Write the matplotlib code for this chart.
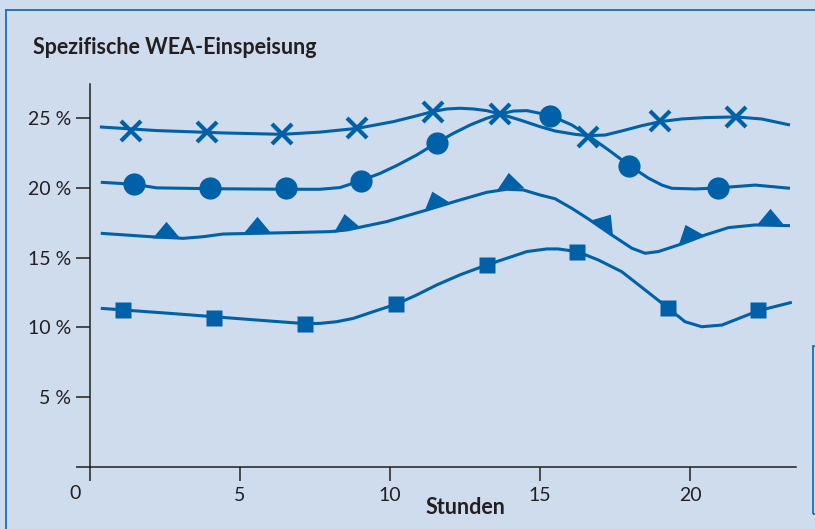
import matplotlib
matplotlib.use('Agg')
import matplotlib.pyplot as plt
from matplotlib.markers import MarkerStyle
from matplotlib.transforms import Affine2D
from matplotlib.patches import Rectangle
from matplotlib.lines import Line2D

plt.rcParams['font.family'] = ['Lato', 'DejaVu Sans']

# curve readings (hour, percent)
cross_line_x = [0.33, 2.22, 4.44, 6.41, 7.67, 8.91, 10.11, 10.78, 11.42, 11.89, 12.33, 12.78,
                13.22, 13.67, 14.33, 15.0, 15.5, 16.17, 16.61, 17.17, 17.72, 18.39, 19.0,
                19.72, 20.5, 21.53, 22.39, 23.33]
cross_line_y = [24.37, 24.11, 23.94, 23.84, 24.0, 24.27, 24.75, 25.11, 25.47, 25.66, 25.71, 25.66,
                25.54, 25.3, 24.87, 24.39, 24.08, 23.84, 23.74, 23.79, 24.08, 24.46, 24.75,
                24.94, 25.04, 25.09, 24.94, 24.51]

circle_line_x = [0.36, 1.47, 2.22, 4.0, 6.52, 7.67, 8.33, 8.67, 9.02, 9.67, 10.22, 10.89, 11.56,
                 12.11, 12.67, 13.22, 13.67, 14.11, 14.56, 15.33, 16.06, 16.61, 17.28, 17.98,
                 18.61, 19.06, 19.39, 20.17, 20.94, 22.17, 23.33]
circle_line_y = [20.4, 20.26, 20.0, 19.94, 19.9, 19.9, 20.02, 20.26, 20.52, 21.04, 21.6, 22.36, 23.24,
                 23.91, 24.51, 24.99, 25.3, 25.51, 25.54, 25.2, 24.51, 23.74, 22.72, 21.6,
                 20.7, 20.2, 19.97, 19.92, 20.0, 20.2, 19.97]

tri_line_x = [0.36, 2.0, 3.11, 3.78, 4.44, 6.67, 8.0, 8.56, 9.89, 11.22, 12.33, 13.22, 13.89,
              14.44, 15.0, 15.5, 16.06, 16.61, 17.39, 18.06, 18.5, 18.94, 19.72, 20.5, 21.28,
              22.17, 23.33]
tri_line_y = [16.74, 16.5, 16.38, 16.5, 16.69, 16.79, 16.86, 16.98, 17.58, 18.41, 19.13, 19.68, 19.9,
              19.85, 19.49, 19.22, 18.53, 17.77, 16.62, 15.67, 15.31, 15.43, 15.98, 16.62, 17.15,
              17.34, 17.29]

square_line_x = [0.36, 2.78, 5.56, 7.17, 7.67, 8.22, 8.78, 9.44, 10.2, 10.89, 11.56, 12.33, 13.22,
                 13.89, 14.56, 15.22, 15.6, 16.24, 16.94, 17.72, 18.5, 19.28, 19.83, 20.39, 21.06,
                 22.28, 23.39]
square_line_y = [11.36, 10.98, 10.52, 10.26, 10.28, 10.4, 10.64, 11.12, 11.65, 12.32, 13.04, 13.76, 14.47,
                 14.95, 15.43, 15.62, 15.62, 15.43, 14.83, 13.99, 12.68, 11.36, 10.4, 10.04, 10.16,
                 11.19, 11.79]

# marker readings
cross_x = [1.36, 3.89, 6.41, 8.91, 11.42, 13.67, 16.61, 19.0, 21.53]
cross_y = [24.08, 24.03, 23.87, 24.27, 25.47, 25.3, 23.68, 24.8, 25.09]
circle_x = [1.47, 4.0, 6.52, 9.02, 11.56, 15.33, 17.98, 20.94]
circle_y = [20.26, 20.0, 20.0, 20.52, 23.24, 25.16, 21.6, 20.0]
tri_x = [2.53, 5.57, 8.58, 11.58, 14.0, 17.03, 20.02, 22.67]
tri_y = [16.42, 16.74, 16.98, 18.62, 19.9, 17.15, 16.29, 17.32]
tri_angle = [0, 0, 10, 18, 6, -34, 21, 0]
square_x = [1.11, 4.13, 7.17, 10.2, 13.22, 16.24, 19.28, 22.28]
square_y = [11.24, 10.69, 10.26, 11.65, 14.47, 15.43, 11.36, 11.24]

y_ticks = [0, 5, 10, 15, 20, 25]
y_labels = ['', '5 %', '10 %', '15 %', '20 %', '25 %']
x_ticks = [0, 5, 10, 15, 20]
x_labels = ['', '5', '10', '15', '20']

blue = '#0061a8'
bg = '#cfdcee'
dark = '#231f20'
W, H = 815, 529

fig = plt.figure(figsize=(W / 100, H / 100), dpi=100, facecolor=bg)
ax = fig.add_axes([90 / W, 62.3 / H, 706 / W, 382.7 / H])
ax.set_facecolor(bg)
ax.set_xlim(0, 23.53)
ax.set_ylim(0, 27.45)

for lx, ly in [(cross_line_x, cross_line_y), (circle_line_x, circle_line_y),
               (tri_line_x, tri_line_y), (square_line_x, square_line_y)]:
    ax.plot(lx, ly, color=blue, lw=2.2, solid_capstyle='butt', solid_joinstyle='round',
            clip_on=False, zorder=3)

ax.plot(cross_x, cross_y, ls='none', marker='x', ms=14, mew=3, color=blue, zorder=4)
ax.plot(circle_x, circle_y, ls='none', marker='o', ms=16, color=blue, mec='none', zorder=4)
ax.plot(square_x, square_y, ls='none', marker='s', ms=11, color=blue, mec='none', zorder=4)

# flat triangle sitting on the curve, base centre is the anchor
tri_verts = [(-1, 0), (1, 0), (0, 1.2), (-1, 0)]
for tx, ty, ta in zip(tri_x, tri_y, tri_angle):
    m = MarkerStyle(tri_verts, transform=Affine2D().rotate_deg(ta))
    ax.plot([tx], [ty], ls='none', marker=m, ms=24, color=blue, mec='none', zorder=4)

for s in ['top', 'right']:
    ax.spines[s].set_visible(False)
for s in ['left', 'bottom']:
    ax.spines[s].set_color(dark)
    ax.spines[s].set_linewidth(1.1)

ax.set_yticks(y_ticks)
ax.set_yticklabels(y_labels)
ax.set_xticks(x_ticks)
ax.set_xticklabels(x_labels)
ax.tick_params(axis='both', direction='out', length=10, width=1.1, color=dark,
               labelcolor=dark, labelsize=14)
ax.tick_params(axis='y', pad=3.5)
ax.tick_params(axis='x', pad=4.5)

ax.text(-0.5, -1.3, '0', ha='center', va='top', fontsize=14, color=dark, clip_on=False)
fig.text(465 / W, 1 - 508 / H, 'Stunden', ha='center', va='center', fontsize=15.5,
         fontweight='bold', color=dark)
fig.text(33 / W, 1 - 54 / H, 'Spezifische WEA-Einspeisung', ha='left', va='baseline',
         fontsize=15.5, fontweight='bold', color=dark)

# frame lines of the page box
fig.add_artist(Line2D([6 / W, 6 / W], [0, 1 - 9.5 / H], color='#1f6db3', lw=1.3,
                      transform=fig.transFigure))
fig.add_artist(Line2D([6 / W, 1], [1 - 9.5 / H, 1 - 9.5 / H], color='#1f6db3', lw=1.3,
                      transform=fig.transFigure))
fig.add_artist(Rectangle((812.5 / W, 1 - 514 / H), 10 / W, 168 / H, fill=False,
                         edgecolor='#1f6db3', lw=1.3, transform=fig.transFigure))

fig.savefig('out.png', dpi=100, facecolor=bg)
